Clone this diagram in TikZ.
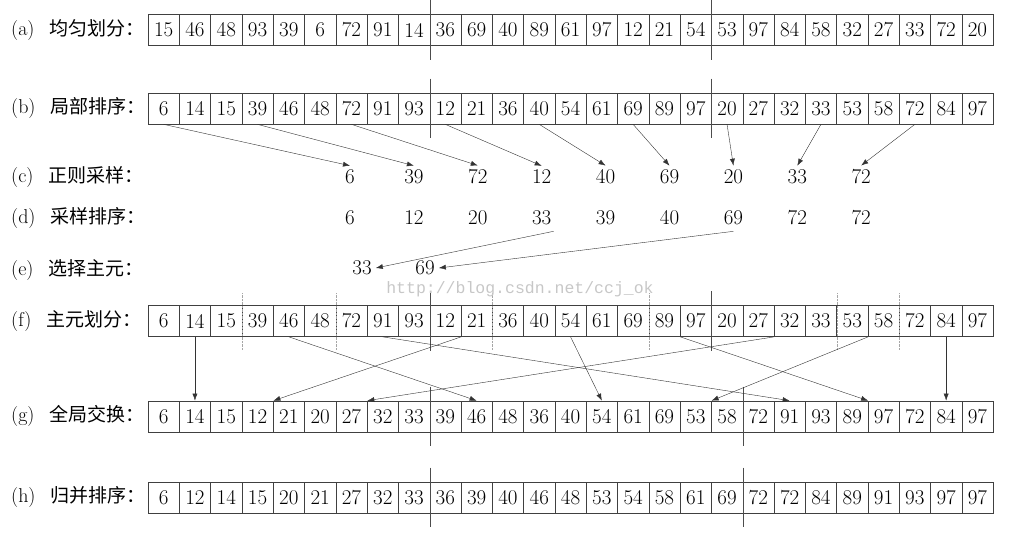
\documentclass[tikz,border=0pt]{standalone}
\usepackage{fontspec}
\newfontfamily\cjk{Noto Sans CJK SC}
\newfontfamily\monofont{Liberation Mono}
\usepackage{tikz}
\usetikzlibrary{positioning, arrows.meta, calc}
\newcommand{\zahlfont}{\fontsize{21}{25}\selectfont}
\newcommand{\zeilenfont}{\fontsize{20}{24}\selectfont}
\newcommand{\zeichenfont}{\cjk\fontsize{19}{23}\selectfont}
\tikzset{zelle/.style={rectangle,draw=black!75,thin,minimum size=31.3pt,inner sep=0pt,font=\zahlfont},
	probe/.style={inner sep=4pt,font=\zahlfont},
	zeile/.style={anchor=west,inner sep=0pt,font=\zeilenfont},
	trenner/.style={draw=black!70,thin},
	punktlinie/.style={draw=black!35,densely dotted,thin},
	pfeil/.style={draw=black!80,thin,-{Latex[length=7pt,width=5pt]}},
	wasserzeichen/.style={inner sep=0pt,text=black!22,font=\monofont\fontsize{16.5}{18}\selectfont} }

\begin{document}
\begin{tikzpicture}[x=1pt,y=-1pt]
  \useasboundingbox (0,0) rectangle (1021,547);

  % row labels
  \node (la) [zeile] at (11,30)  {(a)\hspace{15pt}\zeichenfont 均匀划分：};
  \node (lb) [zeile] at (11,108) {(b)\hspace{15pt}\zeichenfont 局部排序：};
  \node (lc) [zeile] at (11,177) {(c)\hspace{15pt}\zeichenfont 正则采样：};
  \node (ld) [zeile] at (11,218) {(d)\hspace{15pt}\zeichenfont 采样排序：};
  \node (le) [zeile] at (11,270) {(e)\hspace{15pt}\zeichenfont 选择主元：};
  \node (lf) [zeile] at (11,321) {(f)\hspace{15pt}\zeichenfont 主元划分：};
  \node (lg) [zeile] at (11,416) {(g)\hspace{15pt}\zeichenfont 全局交换：};
  \node (lh) [zeile] at (11,497) {(h)\hspace{15pt}\zeichenfont 归并排序：};

  % the five arrays
  \foreach \v [count=\i from 0] in {15,46,48,93,39,6,72,91,14,36,69,40,89,61,97,12,21,54,53,97,84,58,32,27,33,72,20}
    \node (a\i) [zelle] at (163.65+31.3*\i,30) {\v};
  \foreach \v [count=\i from 0] in {6,14,15,39,46,48,72,91,93,12,21,36,40,54,61,69,89,97,20,27,32,33,53,58,72,84,97}
    \node (b\i) [zelle] at (163.65+31.3*\i,108.5) {\v};
  \foreach \v [count=\i from 0] in {6,14,15,39,46,48,72,91,93,12,21,36,40,54,61,69,89,97,20,27,32,33,53,58,72,84,97}
    \node (f\i) [zelle] at (163.65+31.3*\i,321) {\v};
  \foreach \v [count=\i from 0] in {6,14,15,12,21,20,27,32,33,39,46,48,36,40,54,61,69,53,58,72,91,93,89,97,72,84,97}
    \node (g\i) [zelle] at (163.65+31.3*\i,416.5) {\v};
  \foreach \v [count=\i from 0] in {6,12,14,15,20,21,27,32,33,36,39,40,46,48,53,54,58,61,69,72,72,84,89,91,93,97,97}
    \node (h\i) [zelle] at (163.65+31.3*\i,497.5) {\v};

  % samples and pivots
  \foreach \v [count=\k from 0] in {6,39,72,12,40,69,20,33,72}
    \node (c\k) [probe] at (350+63.9*\k,177) {\v};
  \foreach \v [count=\k from 0] in {6,12,20,33,39,40,69,72,72}
    \node (d\k) [probe] at (350+63.9*\k,218) {\v};
  \node (e1) [probe, inner sep=2pt] at (362,268) {33};
  \node (e2) [probe, inner sep=2pt] at (425,268) {69};

  % block borders
  \foreach \r in {a,b,f} {
    \draw[trenner] ([yshift=14pt]\r8.north east) -- ([yshift=-14pt]\r8.south east);
    \draw[trenner] ([yshift=14pt]\r17.north east) -- ([yshift=-14pt]\r17.south east);
  }
  \foreach \r in {g,h} {
    \draw[trenner] ([yshift=14pt]\r8.north east) -- ([yshift=-14pt]\r8.south east);
    \draw[trenner] ([yshift=14pt]\r18.north east) -- ([yshift=-14pt]\r18.south east);
  }
  \foreach \i in {2,5,10,15,21,23}
    \draw[punktlinie] ([yshift=12pt]f\i.north east) -- ([yshift=-13pt]f\i.south east);

  % regular sampling
  \foreach \k in {0,...,8} {
    \pgfmathtruncatemacro\q{3*\k}
    \draw[pfeil] (b\q.south) -- (c\k.north);
  }
  \draw[pfeil] ([xshift=-2pt,yshift=-2pt]d3.south east) -- ([xshift=2pt]e1.east);
  \draw[pfeil] ([yshift=-2pt]d6.south) -- ([xshift=2pt]e2.east);

  % global exchange, middle of segment to middle of segment
  \draw[pfeil] (f1.south) -- (g1.north);
  \draw[pfeil] (f4.south) -- (g10.north);
  \draw[pfeil] (f7.south) -- (g20.north);
  \draw[pfeil] (f9.south east) -- (g3.north east);
  \draw[pfeil] (f13.south) -- (g14.north);
  \draw[pfeil] (f16.south east) -- (g22.north east);
  \draw[pfeil] (f19.south east) -- (g6.north east);
  \draw[pfeil] (f22.south east) -- (g17.north east);
  \draw[pfeil] (f25.south) -- (g25.north);

  \node (wz) [wasserzeichen] at (520,289) {http://blog.csdn.net/ccj\_ok};
\end{tikzpicture}
\end{document}
